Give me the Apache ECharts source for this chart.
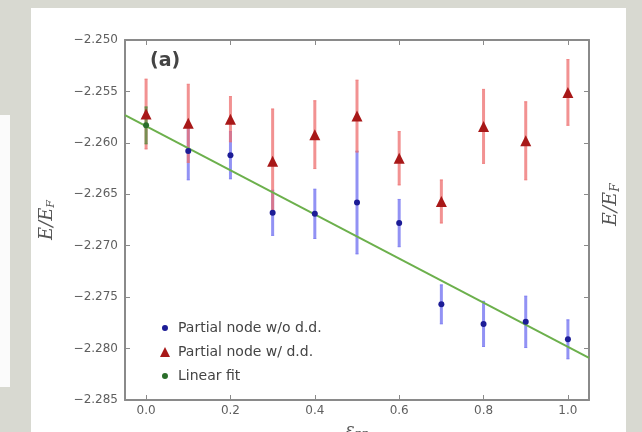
<!DOCTYPE html>
<html>
<head>
<meta charset="utf-8">
<script src="https://cdn.jsdelivr.net/npm/echarts@6/dist/echarts.min.js"></script>
<style>
  html, body { margin: 0; padding: 0; background: #d8d9d1; }
  #main { width: 642px; height: 432px; }
</style>
</head>
<body>
<div id="main"></div>
<script>
// values (x = eps_pp, y = E/E_F)
var blueX   = [0.1, 0.2, 0.3, 0.4, 0.5, 0.6, 0.7, 0.8, 0.9, 1.0];
var blueY   = [-2.2608, -2.2612, -2.2668, -2.2669, -2.2658, -2.2678, -2.2757, -2.2776, -2.2774, -2.2791];
var blueErr = [0.0028, 0.0023, 0.0022, 0.0024, 0.0050, 0.0023, 0.0019, 0.0022, 0.0025, 0.0019];

var redX   = [0.0, 0.1, 0.2, 0.3, 0.4, 0.5, 0.6, 0.7, 0.8, 0.9, 1.0];
var redY   = [-2.2572, -2.2581, -2.2577, -2.2618, -2.2592, -2.2574, -2.2615, -2.2657, -2.2584, -2.2598, -2.2551];
var redErr = [0.0034, 0.0038, 0.0022, 0.0051, 0.0033, 0.0035, 0.0026, 0.0021, 0.0036, 0.0038, 0.0032];

// linear fit: extrapolated point at 0 and the fitted line
var fitX   = [0.0];
var fitY   = [-2.2583];
var fitErr = [0.0018];
var lineX  = [-0.05, 1.05];
var lineY  = [-2.2573, -2.2809];

var yTicks = [-2.285, -2.280, -2.275, -2.270, -2.265, -2.260, -2.255, -2.250];

function pts(xs, ys) {
    var out = [];
    for (var i = 0; i < xs.length; i++) out.push([xs[i], ys[i]]);
    return out;
}
function errPts(xs, ys, es) {
    var out = [];
    for (var i = 0; i < xs.length; i++) out.push([xs[i], ys[i], es[i]]);
    return out;
}
function errSeries(name, data, color) {
    return {
        name: name,
        type: 'custom',
        silent: true,
        z: 1,
        renderItem: function (params, api) {
            var x = api.value(0), y = api.value(1), e = api.value(2);
            var p1 = api.coord([x, y + e]);
            var p2 = api.coord([x, y - e]);
            return {
                type: 'group',
                children: [
                    { type: 'line', shape: { x1: p1[0], y1: p1[1], x2: p2[0], y2: p2[1] },
                      style: { stroke: color, lineWidth: 3 } },
                    { type: 'line', shape: { x1: p1[0] - 1.5, y1: p1[1], x2: p1[0] + 1.5, y2: p1[1] },
                      style: { stroke: color, lineWidth: 1 } },
                    { type: 'line', shape: { x1: p2[0] - 1.5, y1: p2[1], x2: p2[0] + 1.5, y2: p2[1] },
                      style: { stroke: color, lineWidth: 1 } }
                ]
            };
        },
        encode: { x: 0, y: 1 },
        data: data
    };
}

var font = 'DejaVu Sans';
var axisGrey = '#8a8a8a';
var minus = function (v) { return v.toFixed(3).replace('-', '\u2212'); };
// small dot inside a 10x10 box so the legend dot stays smaller than the triangle
var smallDot = 'path://M0,0M10,10M5,2A3,3,0,1,1,4.99,2Z';

var myChart = echarts.init(document.getElementById('main'));

var option = {
    backgroundColor: '#d8d9d1',
    animation: false,
    graphic: [
        { type: 'rect', left: 31, top: 8, shape: { width: 595, height: 430 }, style: { fill: '#ffffff' }, z: -10 },
        { type: 'rect', left: 0, top: 115, shape: { width: 10, height: 272 }, style: { fill: '#fbfbfb' }, z: -10 },
        { type: 'text', left: 150, top: 52, style: { text: '(a)', font: 'bold 19px DejaVu Sans', fill: '#444' } },
        { type: 'text', x: 601, y: 226, rotation: Math.PI / 2,
          style: {
              text: '{e|E/E}{s|F}',
              rich: {
                  e: { fontFamily: 'DejaVu Serif', fontStyle: 'italic', fontSize: 19, fill: '#555' },
                  s: { fontFamily: 'DejaVu Serif', fontStyle: 'italic', fontSize: 12, fill: '#555', padding: [9, 0, 0, 0] }
              }
          } }
    ],
    grid: { left: 125, right: 53, top: 40, bottom: 32, outerBoundsMode: 'none' },
    legend: {
        orient: 'vertical',
        left: 155,
        top: 316,
        itemWidth: 10,
        itemHeight: 10,
        itemGap: 10,
        textStyle: { fontFamily: font, fontSize: 14, color: '#444', padding: [0, 0, 0, 3] },
        data: [
            { name: 'Partial node w/o d.d.', icon: smallDot, itemStyle: { color: '#1c1c96' } },
            { name: 'Partial node w/ d.d.', icon: 'triangle', itemStyle: { color: '#a81818' } },
            { name: 'Linear fit', icon: smallDot, itemStyle: { color: '#2a6e2a' } }
        ]
    },
    xAxis: [{
        type: 'value',
        min: -0.05,
        max: 1.05,
        splitNumber: 5,
        name: '{e|\u03b5}{s|pp}',
        nameLocation: 'middle',
        nameGap: 19,
        nameTextStyle: {
            rich: {
                e: { fontFamily: 'DejaVu Serif', fontStyle: 'italic', fontSize: 17, color: '#555' },
                s: { fontFamily: 'DejaVu Serif', fontStyle: 'italic', fontSize: 11, color: '#555', padding: [8, 0, 0, 0] }
            }
        },
        axisLine: { onZero: false, lineStyle: { color: axisGrey, width: 2 } },
        axisTick: { inside: true, length: 5, lineStyle: { color: axisGrey } },
        axisLabel: {
            showMinLabel: false, showMaxLabel: false, margin: 5,
            fontFamily: font, fontSize: 12, color: '#5f5f5f',
            formatter: function (v) { return v.toFixed(1); }
        },
        splitLine: { show: false }
    }, {
        type: 'value',
        position: 'top',
        min: -0.05,
        max: 1.05,
        splitNumber: 5,
        axisLine: { onZero: false, lineStyle: { color: axisGrey, width: 2 } },
        axisTick: { inside: true, length: 5, lineStyle: { color: axisGrey } },
        axisLabel: { show: false },
        splitLine: { show: false }
    }],
    yAxis: [{
        type: 'value',
        min: yTicks[0],
        max: yTicks[yTicks.length - 1],
        interval: 0.005,
        name: '{e|E/E}{s|F}',
        nameLocation: 'middle',
        nameGap: 68,
        nameTextStyle: {
            rich: {
                e: { fontFamily: 'DejaVu Serif', fontStyle: 'italic', fontSize: 18, color: '#555' },
                s: { fontFamily: 'DejaVu Serif', fontStyle: 'italic', fontSize: 11, color: '#555', padding: [9, 0, 0, 0] }
            }
        },
        axisLine: { onZero: false, lineStyle: { color: axisGrey, width: 2 } },
        axisTick: { inside: true, length: 5, lineStyle: { color: axisGrey } },
        axisLabel: { margin: 7, fontFamily: font, fontSize: 12, color: '#5f5f5f', formatter: minus },
        splitLine: { show: false }
    }, {
        type: 'value',
        position: 'right',
        min: yTicks[0],
        max: yTicks[yTicks.length - 1],
        interval: 0.005,
        axisLine: { onZero: false, lineStyle: { color: axisGrey, width: 2 } },
        axisTick: { inside: true, length: 5, lineStyle: { color: axisGrey } },
        axisLabel: { show: false },
        splitLine: { show: false }
    }],
    series: [
        {
            name: 'Linear fit',
            type: 'line',
            data: pts(lineX, lineY),
            showSymbol: false,
            lineStyle: { color: '#6cb04c', width: 2 },
            z: 2
        },
        errSeries('err blue', errPts(blueX, blueY, blueErr), 'rgba(110,110,240,0.75)'),
        errSeries('err red', errPts(redX, redY, redErr), 'rgba(238,110,110,0.75)'),
        errSeries('err fit', errPts(fitX, fitY, fitErr), 'rgba(80,140,60,0.75)'),
        {
            name: 'Partial node w/o d.d.',
            type: 'scatter',
            symbol: 'circle',
            symbolSize: 6,
            itemStyle: { color: '#1c1c96', opacity: 1 },
            data: pts(blueX, blueY),
            z: 3
        },
        {
            name: 'Partial node w/ d.d.',
            type: 'scatter',
            symbol: 'triangle',
            symbolSize: 11,
            itemStyle: { color: '#a81818', opacity: 1 },
            data: pts(redX, redY),
            z: 3
        },
        {
            name: 'Linear fit',
            type: 'scatter',
            symbol: 'circle',
            symbolSize: 6,
            itemStyle: { color: '#2a6e2a', opacity: 1 },
            data: pts(fitX, fitY),
            z: 3
        }
    ]
};

myChart.setOption(option);
</script>
</body>
</html>
